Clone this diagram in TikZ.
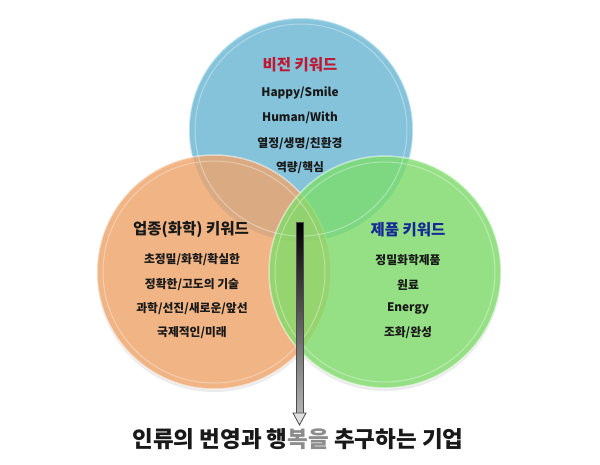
\documentclass[tikz,border=0pt]{standalone}
\usepackage{fontspec}
\setmainfont{Noto Sans CJK KR}
\usetikzlibrary{shadings}
\definecolor{cblue}{RGB}{105,185,215}
\definecolor{corange}{RGB}{242,165,105}
\definecolor{cgreen}{RGB}{125,222,105}
\definecolor{ttred}{RGB}{190,25,50}
\definecolor{ttblue}{RGB}{20,40,150}
\definecolor{txt}{RGB}{25,25,25}
\begin{document}
\begin{tikzpicture}[x=1pt,y=-1pt,
  venn/.style={circle,minimum size=#1,inner sep=0pt,fill opacity=0.78,draw=white,draw opacity=0.5,line width=1.5pt},
  ttl/.style={font=\bfseries\fontsize{15.5}{17}\selectfont},
  item/.style={font=\bfseries\fontsize{11.8}{13}\selectfont,text=txt}]
\useasboundingbox (0,0) rectangle (600,464);
\fill[white] (0,0) rectangle (600,464);
% shadows
\fill[black!8] (301,133) circle (112);
\fill[black!8] (214,275) circle (117);
\fill[black!8] (385,275) circle (116);
% circles
\node[venn=224pt,fill=cblue] (vis) at (301,130) {};
\node[venn=234pt,fill=corange] (ind) at (214,272) {};
\node[venn=232pt,fill=cgreen] (prd) at (385,272) {};
% inner highlights
\draw[white,opacity=0.35,line width=1pt] (301,130) circle (106);
\draw[white,opacity=0.35,line width=1pt] (214,272) circle (111);
\draw[white,opacity=0.35,line width=1pt] (385,272) circle (110);
% blue texts
\node[ttl,text=ttred] (t1) at (300,65) {비전 키워드};
\node[item] (a1) at (300,93) {Happy/Smile};
\node[item] (a2) at (300,118) {Human/With};
\node[item] (a3) at (300,144) {열정/생명/친환경};
\node[item] (a4) at (300,168) {역량/핵심};
% orange texts
\node[ttl,text=txt] (t2) at (191,230) {업종(화학) 키워드};
\node[item] (b1) at (192,260) {초정밀/화학/확실한};
\node[item] (b2) at (192,285) {정확한/고도의 기술};
\node[item] (b3) at (192,309) {과학/선진/새로운/앞선};
\node[item] (b4) at (192,333) {국제적인/미래};
% green texts
\node[ttl,text=ttblue] (t3) at (408,230) {제품 키워드};
\node[item] (c1) at (408,260) {정밀화학제품};
\node[item] (c2) at (408,285) {원료};
\node[item] (c3) at (408,309) {Energy};
\node[item] (c4) at (408,333) {조화/완성};
% arrow
\coordinate (as) at (299.5,222);
\coordinate (ae) at (299.5,425);
\node[font=\bfseries\fontsize{22.5}{25}\selectfont,text=txt] (goal) at (298,439) {인류의 번영과 행\textcolor{black!45}{복을} 추구하는 기업};
\shade[top color=black,bottom color=black!30] ([xshift=-3.5pt]as) rectangle ([xshift=3.5pt,yshift=12pt]ae);
\draw[black!70,line width=0.6pt] ([xshift=-3.5pt]as) rectangle ([xshift=3.5pt,yshift=12pt]ae);
\draw[black!70,fill=black!12,line width=0.8pt] ([xshift=-6.5pt,yshift=12pt]ae) -- ([xshift=6.5pt,yshift=12pt]ae) -- (ae) -- cycle;
\end{tikzpicture}
\end{document}
